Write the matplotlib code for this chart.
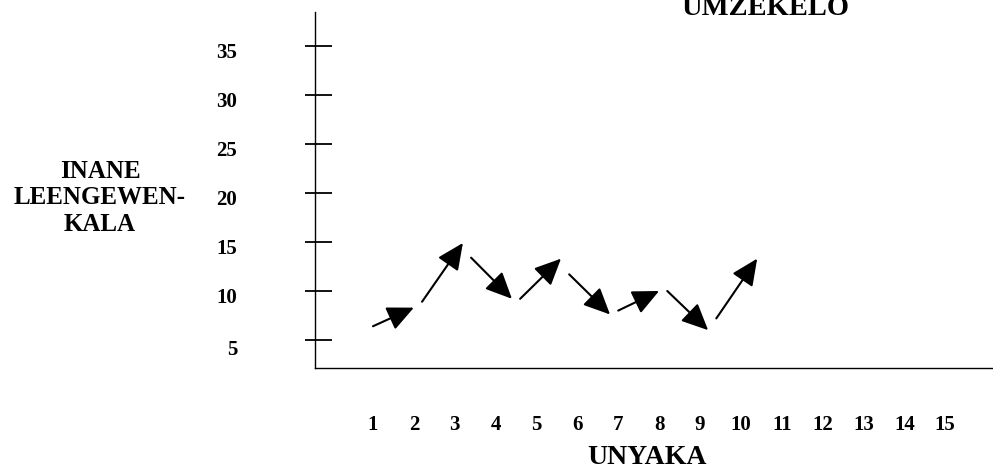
import numpy as np
import matplotlib
matplotlib.use('Agg')
import matplotlib.pyplot as plt

# arrows drawn year to year (start and end of each arrow)
x_start = [1.0, 2.2, 3.4, 4.6, 5.8, 7.0, 8.2, 9.4]
y_start = [6.4, 8.9, 13.4, 9.2, 11.7, 8.0, 10.0, 7.2]
x_end = [2.0, 3.2, 4.4, 5.6, 6.8, 8.0, 9.2, 10.4]
y_end = [8.3, 14.9, 9.2, 13.3, 7.6, 10.0, 6.0, 13.3]

years = list(range(1, 16))
yticks = [5, 10, 15, 20, 25, 30, 35]

plt.rcParams['font.family'] = ['Liberation Serif', 'DejaVu Serif']
plt.rcParams['font.weight'] = 'bold'

W, H = 993, 468
fig = plt.figure(figsize=(W / 100, H / 100), dpi=100)
ax = fig.add_axes([315 / W, (H - 368) / H, (W - 315) / W, (368 - 12) / H])

ax.set_xlim(-0.419, 16.17)
ax.set_ylim(2.14, 38.47)

for s in ['top', 'right']:
    ax.spines[s].set_visible(False)
ax.spines['left'].set_linewidth(1.0)
ax.spines['bottom'].set_linewidth(1.0)

# x axis: labels only
ax.set_xticks(years)
ax.set_xticklabels([str(y) for y in years], fontsize=15, fontweight='bold')
ax.tick_params(axis='x', length=0, pad=34)

# y axis: hand drawn ticks, labels sit a bit below them
ax.set_yticks([])
ax.hlines(yticks, -0.664, 0.0, color='black', lw=1.3, clip_on=False)
for v in yticks:
    dy = -10 if v == 5 else -7
    ax.annotate(str(v), xy=(0, v), xycoords=('axes fraction', 'data'),
                xytext=(-78, dy), textcoords='offset pixels',
                ha='right', va='center', fontsize=15, fontweight='bold')

for xs, ys, xe, ye in zip(x_start, y_start, x_end, y_end):
    ax.annotate('', xy=(xe, ye), xytext=(xs, ys),
                arrowprops=dict(arrowstyle='-|>,head_length=0.65,head_width=0.3',
                                mutation_scale=25, lw=1.5, color='black',
                                shrinkA=0, shrinkB=0))

fig.text(765 / W, 1 - 15 / H, 'UMZEKELO', ha='center', va='baseline',
         fontsize=20.5, fontweight='bold')
fig.text(647 / W, 1 - 457 / H, 'UNYAKA', ha='center', va='center',
         fontsize=20, fontweight='bold')
fig.text(100 / W, 1 - 198 / H, 'INANE\nLEENGEWEN-\nKALA', ha='center', va='center',
         multialignment='center', fontsize=18, fontweight='bold', linespacing=1.2)

plt.savefig('out.png', dpi=100)
